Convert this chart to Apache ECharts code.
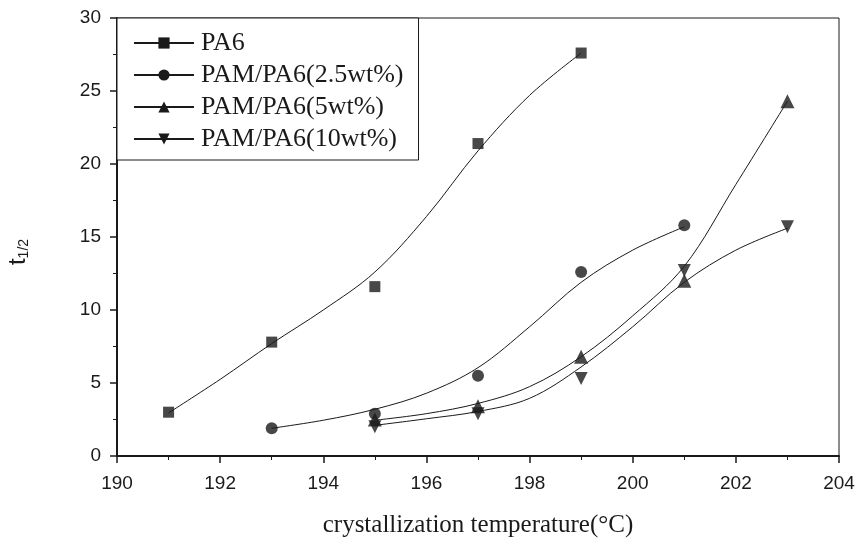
<!DOCTYPE html>
<html>
<head>
<meta charset="utf-8">
<script src="https://cdn.jsdelivr.net/npm/echarts@6/dist/echarts.min.js"></script>
<style>
  html, body { margin: 0; padding: 0; background: #fff; }
  #chart { width: 857px; height: 541px; }
</style>
</head>
<body>
<div id="chart"></div>
<script>
// --- 数据：测量点 ---
const seriesNames = ['PA6', 'PAM/PA6(2.5wt%)', 'PAM/PA6(5wt%)', 'PAM/PA6(10wt%)'];
const symbols = ['rect', 'circle', 'triangle', 'path://M0,0 L10,0 L5,9 Z'];

const ptsPA6 = [[191, 3.0], [193, 7.8], [195, 11.6], [197, 21.4], [199, 27.6]];
const pts25 = [[193, 1.9], [195, 2.9], [197, 5.5], [199, 12.6], [201, 15.8]];
const pts5 = [[195, 2.5], [197, 3.4], [199, 6.8], [201, 12.0], [203, 24.3]];
const pts10 = [[195, 2.0], [197, 2.9], [199, 5.3], [201, 12.7], [203, 15.7]];

// --- 数据：拟合曲线 ---
const fitPA6 = [[191, 2.95], [192, 5.25], [193, 7.7], [194, 10.0], [195, 12.6], [196, 16.4], [197, 20.9], [198, 24.7], [199, 27.6]];
const fit25 = [[193, 1.9], [194, 2.45], [195, 3.2], [196, 4.3], [197, 6.05], [198, 8.85], [199, 11.9], [200, 14.1], [201, 15.7]];
const fit5 = [[195, 2.45], [196, 2.9], [197, 3.6], [198, 4.75], [199, 6.8], [200, 9.6], [201, 13.0], [202, 18.6], [203, 24.3]];
const fit10 = [[195, 2.1], [196, 2.55], [197, 3.05], [198, 3.95], [199, 6.1], [200, 8.85], [201, 11.9], [202, 14.1], [203, 15.6]];

const xTicks = { min: 190, max: 204, interval: 2 };
const yTicks = { min: 0, max: 30, interval: 5 };

const points = [ptsPA6, pts25, pts5, pts10];
const fits = [fitPA6, fit25, fit5, fit10];
const symSize = [11, 12, 14, 13];

const ink = '#1a1a1a';
const serif = '"Liberation Serif", "DejaVu Serif", serif';
const sans = '"Liberation Sans", Arial, sans-serif';

const chart = echarts.init(document.getElementById('chart'));

const series = [];
seriesNames.forEach((name, i) => {
  // 曲线（图例图标取自这一条）
  series.push({
    name, type: 'line', data: fits[i], smooth: 0.35,
    symbol: symbols[i], symbolSize: symSize[i], showSymbol: false,
    lineStyle: { color: ink, width: 1 },
    itemStyle: { color: ink },
    silent: true, z: 2,
  });
  // 数据点
  series.push({
    name, type: 'scatter', data: points[i],
    symbol: symbols[i], symbolSize: symSize[i],
    itemStyle: { color: ink }, z: 3,
  });
});

chart.setOption({
  animation: false,
  backgroundColor: '#fff',
  grid: {
    left: 117, right: 18, top: 18, bottom: 85,
    outerBoundsMode: 'none', containLabel: false,
    show: true, borderColor: ink, borderWidth: 1,
  },
  legend: {
    data: seriesNames,
    orient: 'vertical', left: 117, top: 18,
    padding: [12, 15, 8, 16],
    itemWidth: 60, itemHeight: 14, itemGap: 6,
    backgroundColor: '#fff', borderColor: ink, borderWidth: 1,
    textStyle: { fontFamily: serif, fontSize: 26, color: ink, padding: [0, 0, 0, 2] },
  },
  xAxis: {
    type: 'value', ...xTicks,
    name: 'crystallization temperature(°C)', nameLocation: 'middle', nameGap: 57,
    nameTextStyle: { fontFamily: serif, fontSize: 25, color: ink },
    axisLine: { lineStyle: { color: ink, width: 2 } },
    axisTick: { length: 7, lineStyle: { color: ink, width: 1.5 } },
    minorTick: { show: true, splitNumber: 2, length: 4, lineStyle: { color: ink } },
    axisLabel: { fontFamily: sans, fontSize: 19, color: ink, margin: 18 },
    splitLine: { show: false },
  },
  yAxis: {
    type: 'value', ...yTicks,
    name: '{t|t}{s|1/2}', nameLocation: 'middle', nameGap: 86,
    nameTextStyle: {
      padding: [0, 30, 0, 0],
      rich: {
        t: { fontFamily: sans, fontSize: 24, color: ink },
        s: { fontFamily: sans, fontSize: 14, color: ink, padding: [12, 0, 0, 0] },
      },
    },
    axisLine: { lineStyle: { color: ink, width: 2 } },
    axisTick: { length: 7, lineStyle: { color: ink, width: 1.5 } },
    minorTick: { show: true, splitNumber: 2, length: 4, lineStyle: { color: ink } },
    axisLabel: { fontFamily: sans, fontSize: 19, color: ink, margin: 16 },
    splitLine: { show: false },
  },
  series,
});
</script>
</body>
</html>
